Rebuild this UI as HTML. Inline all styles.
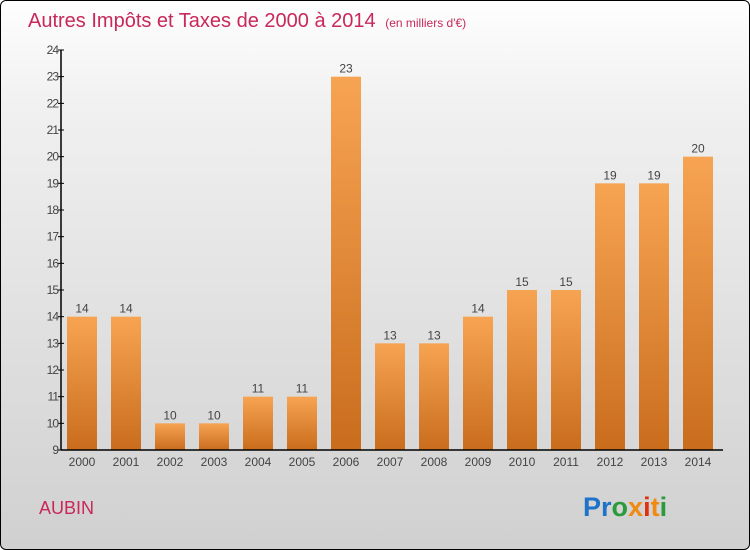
<!DOCTYPE html>
<html><head><meta charset="utf-8"><style>
body{margin:0;}
#c{width:748px;height:548px;border:1px solid #000;border-radius:6px;overflow:hidden;background:linear-gradient(#fefefe,#f0f0f0 20%,#d0d0d0);position:relative;font-family:"Liberation Sans",sans-serif;}
</style></head><body>
<div id="c">
<svg width="748" height="548" id="s">
<defs><linearGradient id="g" x1="0" y1="0" x2="0" y2="1"><stop offset="0" stop-color="#f7a452"/><stop offset="1" stop-color="#c96d1d"/></linearGradient></defs>
<text x="27" y="26" font-size="20" fill="#c8285a">Autres Impôts et Taxes de 2000 à 2014 <tspan font-size="12" dx="4">(en milliers d'€)</tspan></text>
<text x="38" y="513" font-size="18" fill="#c8285a">AUBIN</text>
<text x="582" y="515" font-size="27" font-weight="bold"><tspan fill="#1e72c8">Pr</tspan><tspan fill="#2a9a3a">o</tspan><tspan fill="#f08a10">x</tspan><tspan fill="#e03010">i</tspan><tspan fill="#f08a10">t</tspan><tspan fill="#2a9a3a">i</tspan></text>
<g id="plot"></g>
</svg></div>
<script>
const years=["2000","2001","2002","2003","2004","2005","2006","2007","2008","2009","2010","2011","2012","2013","2014"];
const values=[14,14,10,10,11,11,23,13,13,14,15,15,19,19,20];
const yTicks=[9,10,11,12,13,14,15,16,17,18,19,20,21,22,23,24];
const NS="http://www.w3.org/2000/svg";
const g=document.getElementById('plot');
const y0=449,yMin=9,yMax=24,yTop=49;
const Y=v=>y0-(v-yMin)/(yMax-yMin)*(y0-yTop);
const X=i=>81+i*44;
function mk(t,a,txt){const e=document.createElementNS(NS,t);for(const k in a)e.setAttribute(k,a[k]);if(txt!==undefined)e.textContent=txt;g.appendChild(e);return e;}
values.forEach((v,i)=>{
 const r=mk('rect',{x:X(i)-15,y:Y(v),width:30,height:y0-Y(v),fill:'url(#g)'});
 
 
 const t=mk('text',{x:X(i),y:Y(v)-4,'font-size':12,fill:'#444','text-anchor':'middle'},String(v));
 
 
 const xl=mk('text',{x:X(i),y:y0+16,'font-size':12,fill:'#444','text-anchor':'middle'},years[i]);
 
 
});
yTicks.forEach(v=>{
 const l=mk('line',{x1:57,x2:63,y1:Y(v),y2:Y(v),stroke:'#000'});
 
 
 const t=mk('text',{x:57,y:Y(v)+4,'font-size':12,fill:'#444','text-anchor':'end','letter-spacing':'-1'},String(v));
 
 
});
const ya=mk('line',{x1:60,x2:60,y1:yTop,y2:y0,stroke:'#000','stroke-width':1.5});


const xa=mk('line',{x1:60,x2:722,y1:y0,y2:y0,stroke:'#000','stroke-width':1.5});


</script>
</body></html>
